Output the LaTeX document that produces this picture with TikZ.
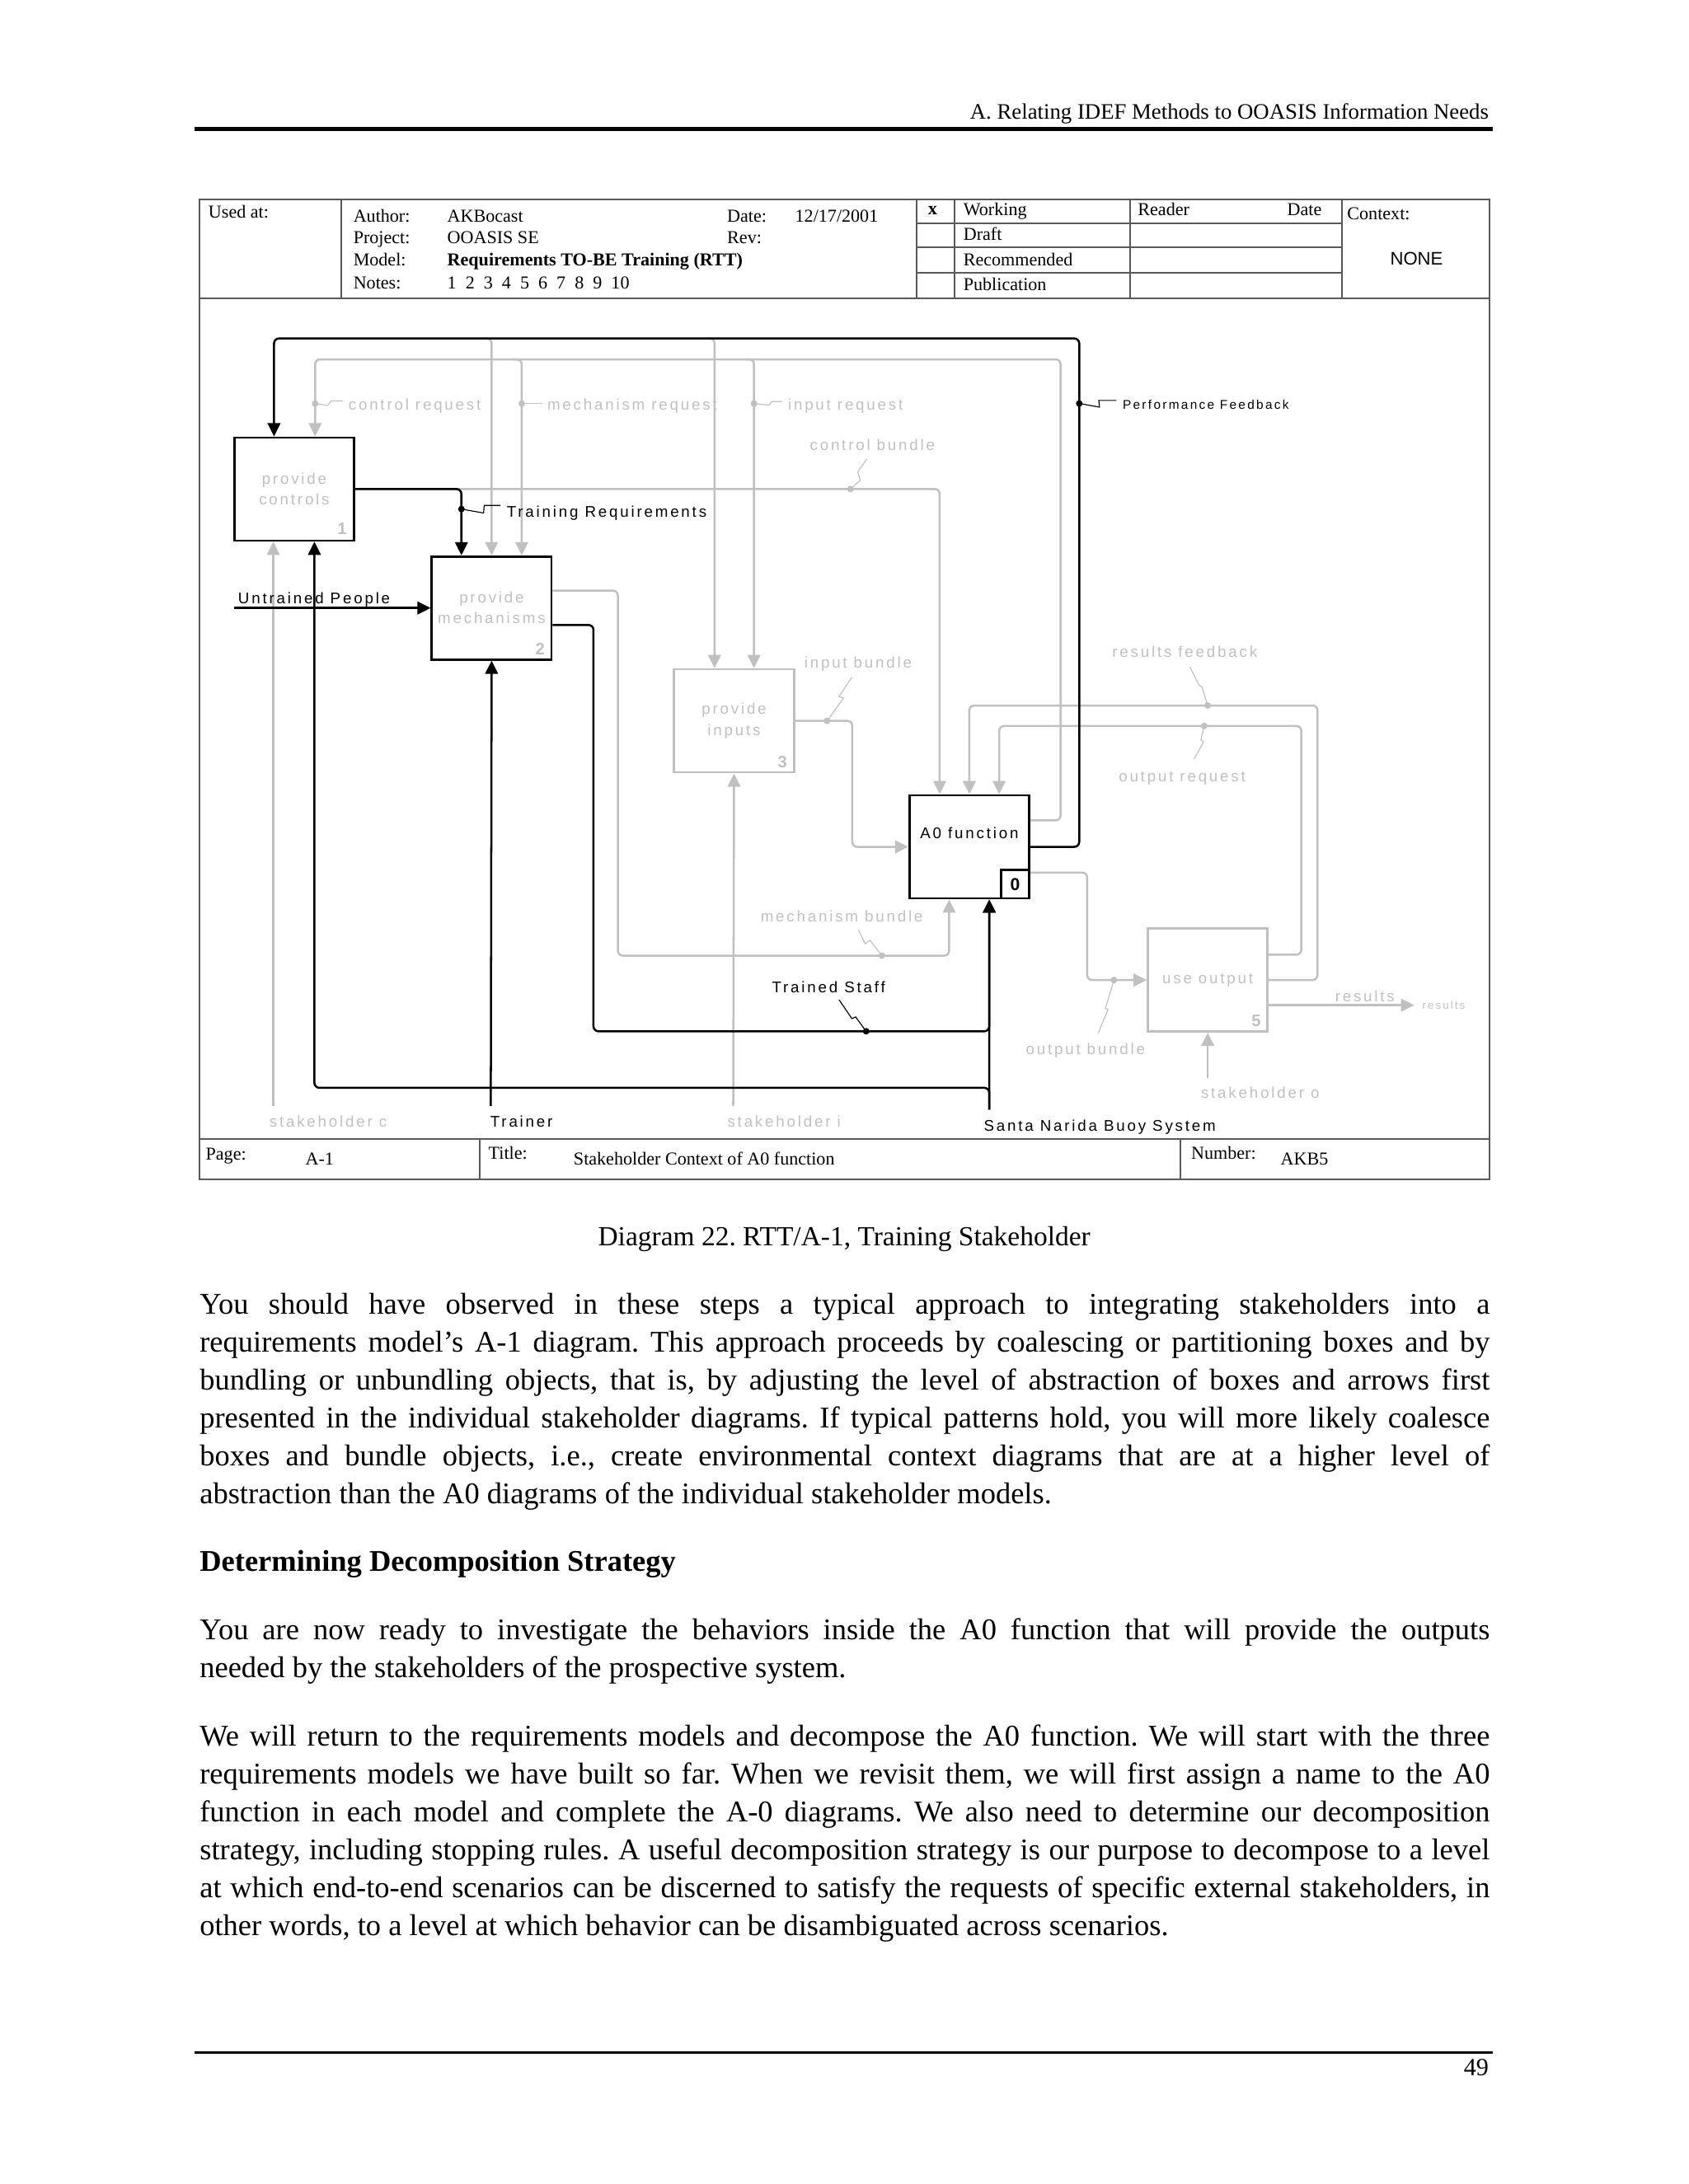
\documentclass[tikz,border=0pt]{standalone}
\usepackage{fontspec}
\setmainfont{Liberation Serif}
\newfontfamily\idefsans[LetterSpace=15]{Liberation Sans}
\newfontfamily\plainsans{Liberation Sans}
\usepackage{tikz}
\usetikzlibrary{arrows.meta, calc}
\usepackage{xcolor}
\definecolor{idefgrey}{RGB}{192,192,192}
\newdimen\dpx
\dpx=0.50495pt
\frenchspacing

\begin{document}
\begin{tikzpicture}[x=0.50495pt, y=-0.50495pt,
    sheet/.style={draw=black!65, line width=0.6pt},
    tb/.style={anchor=base west, inner sep=0pt, font=\fontsize{6.6}{8}\selectfont},
    box/.style={draw, line width=0.8pt, minimum width=86\dpx, minimum height=74\dpx, inner sep=0pt, align=center, font=\idefsans\fontsize{5.6}{7.5}\selectfont},
    gbox/.style={box, draw=idefgrey, text=idefgrey},
    num/.style={inner sep=0pt, text=idefgrey, font=\plainsans\bfseries\fontsize{6}{6}\selectfont},
    link/.style={line width=0.75pt, rounded corners=1.8pt},
    flow/.style={link, black, -{Triangle[length=4.8pt,width=4.6pt]}},
    gflow/.style={link, idefgrey, -{Triangle[length=4.8pt,width=4.6pt]}},
    squig/.style={line width=0.35pt, black},
    gsquig/.style={line width=0.35pt, idefgrey},
    tag/.style={anchor=base west, inner sep=0pt, font=\idefsans\fontsize{5.6}{6.7}\selectfont},
    gtag/.style={tag, text=idefgrey},
    body/.style={anchor=north west, inner sep=0pt, text width=926\dpx, align=justify, font=\fontsize{10.9}{13.75}\selectfont}]

    \fill[white] (0,0) rectangle (1212,1568);
    \useasboundingbox (0,0) rectangle (1212,1568);

    % running head and foot
    \node[anchor=base east, inner sep=0pt, font=\fontsize{8}{9.6}\selectfont] (runhead) at (1069,85.5) {A. Relating IDEF Methods to OOASIS Information Needs};
    \draw[line width=1.4pt] (139.4,92.7) -- (1071.7,92.7);
    \draw[line width=0.8pt] (139.4,1473.5) -- (1071.7,1473.5);
    \node[anchor=base east, inner sep=0pt, font=\fontsize{9}{10}\selectfont] (pageno) at (1069,1490) {49};

    % form
    \draw[sheet] (143,143) rectangle (1069,847);
    \draw[sheet] (143,214) -- (1069,214);
    \draw[sheet] (143,818) -- (1069,818);
    \foreach \xx in {245,658,685,811,963}
        \draw[sheet] (\xx,143) -- (\xx,214);
    \foreach \yy in {160.2,177.5,195.9}
        \draw[sheet] (658,\yy) -- (963,\yy);
    \draw[sheet] (344.5,818) -- (344.5,847);
    \draw[sheet] (847.3,818) -- (847.3,847);

    \node[tb] at (149.3,156.8) {Used at:};
    \node[tb] at (253.3,159.4) {Author:};
    \node[tb] at (320.7,159.4) {AKBocast};
    \node[tb] at (521.6,159.4) {Date:};
    \node[tb] at (570.4,159.4) {12/17/2001};
    \node[tb] at (253.3,174.8) {Project:};
    \node[tb] at (320.7,174.8) {OOASIS SE};
    \node[tb] at (521.6,174.8) {Rev:};
    \node[tb] at (253.3,190.7) {Model:};
    \node[tb, font=\bfseries\fontsize{6.6}{8}\selectfont] at (320.7,190.7) {Requirements TO-BE Training (RTT)};
    \node[tb] at (253.3,207.1) {Notes:};
    \node[tb] at (320.7,207.1) {1\ \ 2\ \ 3\ \ 4\ \ 5\ \ 6\ \ 7\ \ 8\ \ 9\ \ 10};
    \node[tb, font=\bfseries\fontsize{6.6}{8}\selectfont] at (665.7,154.2) {x};
    \node[tb] at (691.2,154.8) {Working};
    \node[tb] at (691.2,172.6) {Draft};
    \node[tb] at (691.2,190.9) {Recommended};
    \node[tb] at (691.2,208.7) {Publication};
    \node[tb] at (816.4,154.8) {Reader};
    \node[tb] at (923.6,154.8) {Date};
    \node[tb] at (966.7,157.4) {Context:};
    \node[anchor=base, inner sep=0pt, font=\plainsans\fontsize{6.6}{8}\selectfont] at (1016.8,190.3) {NONE};
    \node[tb] at (147.3,832.8) {Page:};
    \node[tb] at (218.9,836.3) {A-1};
    \node[tb] at (350.3,832.4) {Title:};
    \node[tb] at (411.4,836.3) {Stakeholder Context of A0 function};
    \node[tb] at (854.7,832.4) {Number:};
    \node[tb] at (918.9,836.3) {AKB5};

    % boxes
    \node[box] (b1) at (211.2,351.1) {};
    \node[box] (b2) at (352.9,436.5) {};
    \node[gbox] (b3) at (526.9,517.5) {provide\\inputs};
    \node[box] (a0) at (695.8,608) {};
    \node[gbox] (b5) at (866.9,703.6) {use output};
    \node[box, draw=none, text=idefgrey] at (b1.center) {provide\\controls};
    \node[box, draw=none, text=idefgrey] at (b2.center) {provide\\mechanisms};
    \node[tag, anchor=base] (a0name) at (695.8,602.2) {A0 function};
    \node[draw, line width=0.8pt, minimum width=20.3\dpx, minimum height=20.5\dpx, inner sep=0pt, anchor=south east, font=\plainsans\bfseries\fontsize{6.3}{6.3}\selectfont] (a0num) at (a0.south east) {0};
    \node[num] at ($(b1.south east)+(-9.5,-9)$) {1};
    \node[num] at ($(b2.south east)+(-9,-8.5)$) {2};
    \node[num] at ($(b3.south east)+(-9,-8.5)$) {3};
    \node[num] at ($(b5.south east)+(-9,-8.5)$) {5};

    % free ends
    \coordinate (ppl) at (168,436.5);
    \coordinate (stkc) at (196.2,794);
    \coordinate (trn) at (352.3,794);
    \coordinate (stki) at (526.3,794);
    \coordinate (sys) at (710.1,796.6);
    \coordinate (stko) at (866.9,773.7);
    \coordinate (resout) at (1015.2,721.7);

    % grey arrows
    \draw[gflow] ($(a0.east)+(0,-19)$) -| (761.3,258) -| ($(b1.north)+(15,0)$);
    \draw[gflow] (368,258) -| ($(b2.north)+(21.6,0)$);
    \draw[gflow] (535,258) -| ($(b3.north)+(14.3,0)$);
    \draw[gflow] (346,243) -| (b2.north);
    \draw[gflow] (507,243) -| ($(b3.north)+(-14,0)$);
    \draw[gflow] (b1.east) -| ($(a0.north)+(-21.3,0)$);
    \draw[gflow] ($(b2.east)+(0,-12.5)$) -| (443.5,686.1) -| ($(a0.south)+(-14.5,0)$);
    \draw[gflow] (b3.east) -| (611.8,608) -- (a0.west);
    \draw[gflow] ($(a0.east)+(0,18.5)$) -| (780.4,703.6) -- (b5.west);
    \draw[gflow] (b5.east) -| (945.7,506.5) -| (a0.north);
    \draw[gflow] ($(b5.east)+(0,-18.2)$) -| (934.1,521.2) -| ($(a0.north)+(21.4,0)$);
    \draw[gflow] ($(b5.east)+(0,18.1)$) -- (resout);
    \draw[gflow] (stko) -- (b5.south);
    \draw[gflow] (stkc) -- ($(b1.south)+(-15,0)$);
    \draw[gflow] (stki) -- (b3.south);

    % black arrows
    \draw[flow] (a0.east) -| (774.7,243) -| ($(b1.north)+(-14.5,0)$);
    \draw[flow] (b1.east) -| ($(b2.north)+(-21.7,0)$);
    \draw[flow] (ppl) -- (b2.west);
    \draw[flow] (trn) -- (b2.south);
    \draw[flow] ($(b2.east)+(0,12.2)$) -| (426,740.4) -| ($(a0.south)+(14.3,0)$);
    \draw[flow] (sys) -- ($(a0.south)+(14.3,0)$);
    \draw[flow] (sys) -- (710.1,781) -| ($(b1.south)+(14.5,0)$);

    % dots and squiggles
    \coordinate (dcr) at (226.2,289.7);
    \coordinate (dmr) at (374.5,289.7);
    \coordinate (dir) at (541.2,289.7);
    \coordinate (dpf) at (774.7,289.7);
    \coordinate (dtr) at (331.2,365.5);
    \coordinate (dcb) at (610.5,351.1);
    \coordinate (dib) at (593.7,517.5);
    \coordinate (drf) at (866.9,506.5);
    \coordinate (dor) at (864.4,521.2);
    \coordinate (dmb) at (633,686.1);
    \coordinate (dts) at (621.7,740.4);
    \coordinate (dob) at (799.6,703.6);
    \foreach \d in {dcr,dmr,dir,dcb,dib,drf,dor,dmb,dob}
        \fill[idefgrey] (\d) circle (1.2pt);
    \foreach \d in {dpf,dtr,dts}
        \fill[black] (\d) circle (1.2pt);
    \draw[gsquig] (dcr) -- ++(9,1.4) -- ++(2.4,-3.2) -- ++(8.6,0);
    \draw[gsquig] (dmr) -- ++(15,0);
    \draw[gsquig] (dir) -- ++(11,1.2) -- ++(1.6,-2.6) -- ++(7.5,0);
    \draw[squig] (dpf) -- ++(14.5,2.6) -- ++(-0.5,-4.8) -- ++(12.7,0);
    \draw[squig] (dtr) -- ++(15.9,2.8) -- ++(0.5,-5.4) -- ++(11.6,0);
    \draw[gsquig] (dcb) -- ++(7,-6.3) -- ++(-1.9,-5.9) -- ++(6.8,-9.5);
    \draw[gsquig] (dib) -- ++(11.9,-16.4) -- ++(-3.4,-1) -- ++(9.2,-13.8);
    \draw[gsquig] (drf) -- ++(-4,-13) -- ++(-2.5,-2) -- ++(-6.3,-12.7);
    \draw[gsquig] (dor) -- ++(-2.5,10) -- ++(2,1.5) -- ++(-6.8,12.3);
    \draw[gsquig] (dmb) -- ++(-8.5,-11) -- ++(-3.4,2.5) -- ++(-5.1,-10.3);
    \draw[squig] (dts) -- ++(-7.5,-10.3) -- ++(-2.7,1.2) -- ++(-9.2,-13.5);
    \draw[gsquig] (dob) -- ++(-6.1,20.3) -- ++(1.8,1) -- ++(-7,16.8);

    % arrow labels
    \node[gtag] (lcr) at (249.8,294.3) {control request};
    \node[gtag] (lmr) at (392.5,294.3) {mechanism request};
    \node[gtag] (lir) at (565.3,294.3) {input request};
    \node[tag, font=\idefsans\fontsize{4.6}{5.5}\selectfont] (lpf) at (805.5,293.9) {Performance Feedback};
    \node[gtag] (lcb) at (581,323.5) {control bundle};
    \node[tag] (ltr) at (363.4,371.3) {Training Requirements};
    \node[tag] (lup) at (170.6,433.6) {Untrained People};
    \node[gtag] (lib) at (577,479.3) {input bundle};
    \node[gtag] (lrf) at (798,471.8) {results feedback};
    \node[gtag] (lor) at (802.7,561) {output request};
    \node[gtag] (lmb) at (545.6,661.6) {mechanism bundle};
    \node[tag] (lts) at (553.8,712.6) {Trained Staff};
    \node[gtag] (lres) at (958,719.2) {results};
    \node[gtag, font=\idefsans\fontsize{4}{5}\selectfont] (lres2) at (1020.7,724.6) {results};
    \node[gtag] (lob) at (736,757.1) {output bundle};
    \node[gtag] (lso) at (861.7,788.7) {stakeholder o};
    \node[gtag] (lsc) at (193,809.3) {stakeholder c};
    \node[tag] (ltn) at (351.6,809.3) {Trainer};
    \node[gtag] (lsi) at (521.8,809.3) {stakeholder i};
    \node[tag] (lsys) at (705.8,811.9) {Santa Narida Buoy System};

    % caption and text
    \node[anchor=base, inner sep=0pt, font=\fontsize{10}{12}\selectfont] (caption) at (606,894.5) {Diagram 22. RTT/A-1, Training Stakeholder};

    \node[body] (para1) at (143,924.2) {\hyphenpenalty=10000\tolerance=10000\noindent\strut You should have observed in these steps a typical approach to integrating stakeholders into a\linebreak
    requirements model’s A-1 diagram. This approach proceeds by coalescing or partitioning boxes and by\linebreak
    bundling or unbundling objects, that is, by adjusting the level of abstraction of boxes and arrows first\linebreak
    presented in the individual stakeholder diagrams. If typical patterns hold, you will more likely coalesce\linebreak
    boxes and bundle objects, i.e., create environmental context diagrams that are at a higher level of\linebreak
    abstraction than the A0 diagrams of the individual stakeholder models.};

    \node[anchor=base west, inner sep=0pt, font=\bfseries\fontsize{10.9}{13.75}\selectfont] (sect) at (143,1127.9) {Determining Decomposition Strategy};

    \node[body] (para2) at (143,1157.9) {\hyphenpenalty=10000\tolerance=10000\noindent\strut You are now ready to investigate the behaviors inside the A0 function that will provide the outputs\linebreak
    needed by the stakeholders of the prospective system.};

    \node[body] (para3) at (143,1233.9) {\hyphenpenalty=10000\tolerance=10000\noindent\strut We will return to the requirements models and decompose the A0 function. We will start with the three\linebreak
    requirements models we have built so far. When we revisit them, we will first assign a name to the A0\linebreak
    function in each model and complete the A-0 diagrams. We also need to determine our decomposition\linebreak
    strategy, including stopping rules. A useful decomposition strategy is our purpose to decompose to a level\linebreak
    at which end-to-end scenarios can be discerned to satisfy the requests of specific external stakeholders, in\linebreak
    other words, to a level at which behavior can be disambiguated across scenarios.};
\end{tikzpicture}
\end{document}
